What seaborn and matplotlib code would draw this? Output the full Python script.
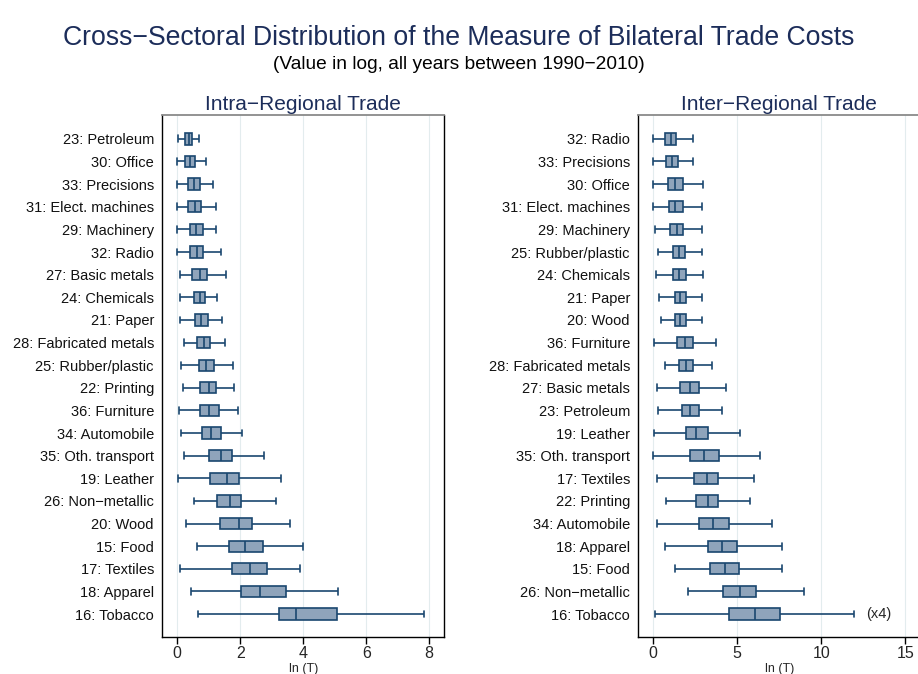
import matplotlib
matplotlib.use("Agg")
import pandas as pd
import seaborn as sns
import matplotlib.pyplot as plt

# five-number summaries: lower whisker, q1, median, q3, upper whisker
intra_sectors = ["23: Petroleum", "30: Office", "33: Precisions", "31: Elect. machines",
                 "29: Machinery", "32: Radio", "27: Basic metals", "24: Chemicals",
                 "21: Paper", "28: Fabricated metals", "25: Rubber/plastic", "22: Printing",
                 "36: Furniture", "34: Automobile", "35: Oth. transport", "19: Leather",
                 "26: Non\u2212metallic", "20: Wood", "15: Food", "17: Textiles",
                 "18: Apparel", "16: Tobacco"]
intra_lo = [0.03, 0.00, 0.00, 0.00, 0.00, 0.00, 0.09, 0.09, 0.09, 0.22, 0.12,
            0.17, 0.06, 0.12, 0.21, 0.02, 0.52, 0.28, 0.62, 0.09, 0.43, 0.67]
intra_q1 = [0.24, 0.23, 0.33, 0.35, 0.41, 0.39, 0.48, 0.53, 0.55, 0.64, 0.69,
            0.73, 0.73, 0.77, 1.02, 1.05, 1.27, 1.35, 1.65, 1.75, 2.02, 3.22]
intra_med = [0.36, 0.39, 0.53, 0.55, 0.60, 0.62, 0.71, 0.72, 0.76, 0.85, 0.92,
             1.00, 1.02, 1.06, 1.39, 1.57, 1.66, 1.97, 2.14, 2.32, 2.62, 3.77]
intra_q3 = [0.47, 0.55, 0.73, 0.74, 0.82, 0.83, 0.93, 0.89, 0.98, 1.05, 1.17,
            1.24, 1.32, 1.39, 1.73, 1.97, 2.03, 2.38, 2.71, 2.86, 3.44, 5.08]
intra_hi = [0.70, 0.91, 1.12, 1.22, 1.24, 1.39, 1.56, 1.27, 1.43, 1.52, 1.77,
            1.80, 1.93, 2.06, 2.74, 3.30, 3.13, 3.57, 3.99, 3.90, 5.11, 7.85]

inter_sectors = ["32: Radio", "33: Precisions", "30: Office", "31: Elect. machines",
                 "29: Machinery", "25: Rubber/plastic", "24: Chemicals", "21: Paper",
                 "20: Wood", "36: Furniture", "28: Fabricated metals", "27: Basic metals",
                 "23: Petroleum", "19: Leather", "35: Oth. transport", "17: Textiles",
                 "22: Printing", "34: Automobile", "18: Apparel", "15: Food",
                 "26: Non\u2212metallic", "16: Tobacco"]
inter_lo = [0.00, 0.00, 0.00, 0.00, 0.10, 0.30, 0.14, 0.34, 0.46, 0.02, 0.70,
            0.24, 0.27, 0.04, 0.00, 0.24, 0.74, 0.24, 0.71, 1.31, 2.08, 0.10]
inter_q1 = [0.70, 0.74, 0.89, 0.93, 1.01, 1.17, 1.17, 1.27, 1.27, 1.39, 1.55,
            1.61, 1.73, 1.95, 2.20, 2.40, 2.56, 2.74, 3.24, 3.36, 4.15, 4.52]
inter_med = [1.03, 1.09, 1.31, 1.31, 1.39, 1.53, 1.55, 1.61, 1.61, 1.87, 1.95,
             2.18, 2.20, 2.56, 3.02, 3.21, 3.24, 3.57, 4.09, 4.29, 5.18, 6.04]
inter_q3 = [1.37, 1.45, 1.75, 1.75, 1.79, 1.89, 1.93, 1.93, 1.95, 2.34, 2.34,
            2.72, 2.70, 3.24, 3.91, 3.85, 3.87, 4.49, 5.00, 5.12, 6.11, 7.52]
inter_hi = [2.34, 2.38, 2.94, 2.88, 2.90, 2.90, 2.94, 2.88, 2.90, 3.71, 3.51,
            4.35, 4.09, 5.14, 6.35, 5.98, 5.77, 7.08, 7.66, 7.68, 8.97, 11.93]

navy = "#1a476f"
box_fill = "#8fa4bb"
title_col = "#1c2d5a"


def long_table(sectors, *stats):
    # five points per sector: with whis=(0, 100) the boxplot reproduces the summary exactly
    rows = []
    for i, s in enumerate(sectors):
        for col in stats:
            rows.append({"sector": s, "value": col[i]})
    return pd.DataFrame(rows)


sns.set_style("white")
plt.rcParams["font.family"] = ["Liberation Sans", "DejaVu Sans"]

fig = plt.figure(figsize=(9.18, 6.74), dpi=100)
ax1 = fig.add_axes([0.1768, 0.0553, 0.3072, 0.7736])
ax2 = fig.add_axes([0.6953, 0.0553, 0.3072, 0.7736])

panels = [
    (ax1, long_table(intra_sectors, intra_lo, intra_q1, intra_med, intra_q3, intra_hi),
     intra_sectors, (-0.476, 8.48), [0, 2, 4, 6, 8], "Intra\u2212Regional Trade"),
    (ax2, long_table(inter_sectors, inter_lo, inter_q1, inter_med, inter_q3, inter_hi),
     inter_sectors, (-0.89, 15.9), [0, 5, 10, 15], "Inter\u2212Regional Trade"),
]

for ax, df, order, xlim, xticks, title in panels:
    sns.boxplot(data=df, x="value", y="sector", order=order, orient="h",
                whis=(0, 100), width=0.5, color=box_fill, saturation=1,
                linecolor=navy, linewidth=1.2, fliersize=0, ax=ax)
    # stata-style caps are a bit wider than seaborn's default
    for ln in ax.lines:
        ys = ln.get_ydata()
        if len(ys) == 2 and ys[0] != ys[1] and abs(ys[1] - ys[0]) < 0.45:
            mid = (ys[0] + ys[1]) / 2
            ln.set_ydata([mid - 0.15, mid + 0.15])
    ax.set_xlim(*xlim)
    ax.set_ylim(22.0, -1.04)
    ax.set_xticks(xticks)
    ax.grid(axis="x", color="#e3ecee", linewidth=0.8)
    ax.grid(axis="y", visible=False)
    ax.set_axisbelow(True)
    ax.tick_params(axis="y", left=False, length=0, pad=6, labelsize=10.5, labelcolor="#111111")
    ax.tick_params(axis="x", bottom=True, length=5, width=1, color="black",
                   labelsize=11.5, pad=2)
    for side in ["left", "bottom", "right"]:
        ax.spines[side].set_color("black")
        ax.spines[side].set_linewidth(1.0)
    ax.spines["top"].set_color("#8a8a8a")
    ax.spines["top"].set_linewidth(1.3)
    ax.set_xlabel("ln (T)", fontsize=9, labelpad=1)
    ax.set_ylabel("")
    ax.set_title(title, color=title_col, fontsize=15, pad=4)

ax2.text(12.65, len(inter_sectors) - 1, "(x4)", va="center", ha="left", fontsize=10.5)

fig.text(0.5, 0.943, "Cross\u2212Sectoral Distribution of the Measure of Bilateral Trade Costs",
         ha="center", va="center", fontsize=19.2, color=title_col)
fig.text(0.5, 0.905, "(Value in log, all years between 1990\u22122010)",
         ha="center", va="center", fontsize=13.8, color="black")

fig.savefig("out.png", dpi=100)
